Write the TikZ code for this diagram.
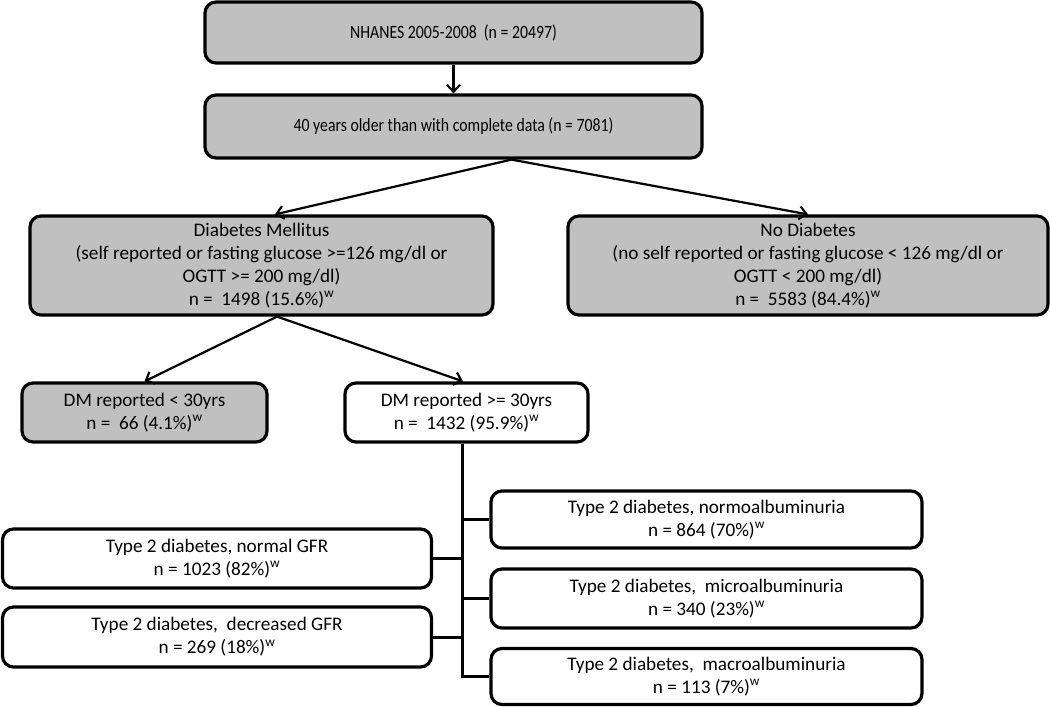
\documentclass[tikz,border=0pt]{standalone}
\usepackage{fontspec}
\setmainfont{Carlito}
\newfontfamily\topfont[FakeStretch=0.84]{Carlito}
\usetikzlibrary{arrows.meta,calc}
\definecolor{boxgrey}{HTML}{C0C0C0}
\begin{document}
\begin{tikzpicture}[x=1pt,y=-1pt,
  box/.style={draw=black,line width=3.2pt,rounded corners=11pt,inner sep=0pt,
    align=center,font=\fontsize{19.2}{23}\selectfont,anchor=center},
  topbox/.style={box,fill=boxgrey,font=\topfont\fontsize{18.8}{22}\selectfont},
  greybox/.style={box,fill=boxgrey},
  whitebox/.style={box,fill=white},
  arr/.style={line width=2.2pt,-{Straight Barb[length=7pt,width=13pt,line width=2.2pt]}},
  link/.style={line width=3pt}]
\useasboundingbox (0,0) rectangle (1050,707);
\node[topbox,minimum width=497pt,minimum height=61pt] (b1) at (453.5,32.5)
  {NHANES 2005-2008 \ (n = 20497)};
\node[topbox,minimum width=497pt,minimum height=63pt] (b2) at (453.5,126.5)
  {40 years older than with complete data (n = 7081)};
\node[greybox,minimum width=463pt,minimum height=99pt] (dm) at (261.5,265.5)
  {Diabetes Mellitus\\(self reported or fasting glucose >=126 mg/dl or\\OGTT >= 200 mg/dl)\\n = \ 1498 (15.6\%)\textsuperscript{w}};
\node[greybox,minimum width=480pt,minimum height=99pt] (nd) at (808,265.5)
  {No Diabetes\\(no self reported or fasting glucose < 126 mg/dl or\\OGTT < 200 mg/dl)\\n = \ 5583 (84.4\%)\textsuperscript{w}};
\node[greybox,minimum width=245pt,minimum height=59pt] (lt) at (144.5,412.5)
  {DM reported < 30yrs\\n = \ 66 (4.1\%)\textsuperscript{w}};
\node[whitebox,minimum width=243pt,minimum height=59pt] (ge) at (466.5,412.5)
  {DM reported >= 30yrs\\n = \ 1432 (95.9\%)\textsuperscript{w}};
\node[whitebox,minimum width=431pt,minimum height=57pt] (nalb) at (706.5,519.5)
  {Type 2 diabetes, normoalbuminuria\\n = 864 (70\%)\textsuperscript{w}};
\node[whitebox,minimum width=431pt,minimum height=59pt] (mic) at (706.5,598.5)
  {Type 2 diabetes, \ microalbuminuria\\n = 340 (23\%)\textsuperscript{w}};
\node[whitebox,minimum width=431pt,minimum height=56pt] (mac) at (706.5,676.5)
  {Type 2 diabetes, \ macroalbuminuria\\n = 113 (7\%)\textsuperscript{w}};
\node[whitebox,minimum width=429pt,minimum height=59pt] (ngfr) at (217,558.5)
  {Type 2 diabetes, normal GFR\\n = 1023 (82\%)\textsuperscript{w}};
\node[whitebox,minimum width=429pt,minimum height=60pt] (dgfr) at (217,637)
  {Type 2 diabetes, \ decreased GFR\\n = 269 (18\%)\textsuperscript{w}};
% arrows
\draw[arr] (b1.south) -- (b2.north);
\coordinate (split) at ([xshift=58pt]b2.south);
\draw[arr] (split) -- ([xshift=13.5pt]dm.north);
\draw[arr] (split) -- (nd.north);
\coordinate (dmsplit) at ([xshift=15.5pt]dm.south);
\draw[arr] (dmsplit) -- (lt.north);
\draw[arr] (dmsplit) -- ([xshift=-3.5pt]ge.north);
% trunk
\coordinate (t) at ([xshift=-4.5pt]ge.south);
\draw[link] (t) |- (mac.west);
\draw[link] (nalb.west) -- (nalb.west -| t);
\draw[link] (mic.west) -- (mic.west -| t);
\draw[link] (ngfr.east) -- (ngfr.east -| t);
\draw[link] (dgfr.east) -- (dgfr.east -| t);
\end{tikzpicture}
\end{document}
